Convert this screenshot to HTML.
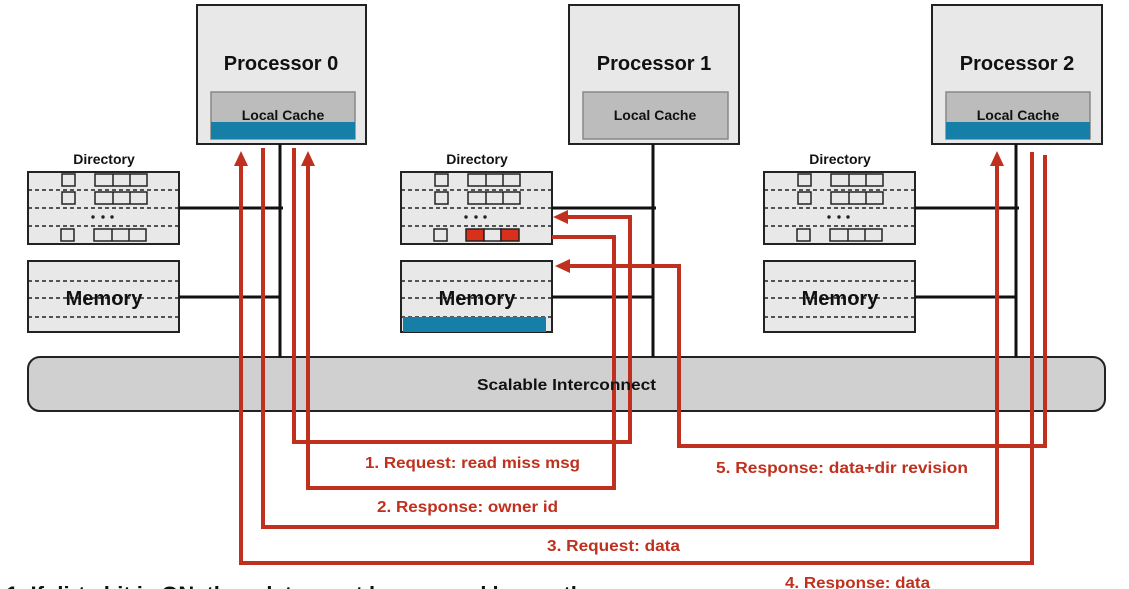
<!DOCTYPE html>
<html><head><meta charset="utf-8"><style>
html,body{margin:0;padding:0;background:#fff;}
svg{display:block;}
text{font-family:"Liberation Sans",sans-serif;font-weight:bold;}
</style></head><body>
<svg width="1129" height="589" viewBox="0 0 1129 589" xmlns="http://www.w3.org/2000/svg">
<defs>
<g id="dir">
  <rect x="0" y="0" width="151" height="72" fill="#e8e8e8" stroke="#222" stroke-width="2"/>
  <g stroke="#222" stroke-width="1.5" stroke-dasharray="4,3">
    <line x1="0" y1="18" x2="151" y2="18"/><line x1="0" y1="36" x2="151" y2="36"/><line x1="0" y1="54" x2="151" y2="54"/>
  </g>
  <g fill="#e8e8e8" stroke="#222" stroke-width="1.5">
    <rect x="34" y="2" width="13" height="12"/><rect x="67" y="2" width="52" height="12"/>
    <line x1="85" y1="2" x2="85" y2="14"/><line x1="102" y1="2" x2="102" y2="14"/>
    <rect x="34" y="20" width="13" height="12"/><rect x="67" y="20" width="52" height="12"/>
    <line x1="85" y1="20" x2="85" y2="32"/><line x1="102" y1="20" x2="102" y2="32"/>
  </g>
  <g fill="#222"><circle cx="65" cy="45" r="1.7"/><circle cx="75" cy="45" r="1.7"/><circle cx="84" cy="45" r="1.7"/></g>
</g>
<g id="mem">
  <rect x="0" y="0" width="151" height="71" fill="#e8e8e8" stroke="#222" stroke-width="2"/>
  <g stroke="#222" stroke-width="1.5" stroke-dasharray="4,3">
    <line x1="0" y1="20" x2="151" y2="20"/><line x1="0" y1="37" x2="151" y2="37"/><line x1="0" y1="56" x2="151" y2="56"/>
  </g>
  <text x="76" y="44" font-size="20" text-anchor="middle" fill="#111">Memory</text>
</g>
</defs>

<g>
  <rect x="197" y="5" width="169" height="139" fill="#e8e8e8" stroke="#222" stroke-width="2"/>
  <text x="281" y="70" font-size="20" text-anchor="middle" fill="#111">Processor 0</text>
  <rect x="211" y="92" width="144" height="47" fill="#bcbcbc" stroke="#888" stroke-width="1.5"/>
  <rect x="211" y="122" width="144" height="17" fill="#167fa7"/>
  <text x="283" y="120" font-size="14" text-anchor="middle" fill="#111">Local Cache</text>

  <rect x="569" y="5" width="170" height="139" fill="#e8e8e8" stroke="#222" stroke-width="2"/>
  <text x="654" y="70" font-size="20" text-anchor="middle" fill="#111">Processor 1</text>
  <rect x="583" y="92" width="145" height="47" fill="#bcbcbc" stroke="#888" stroke-width="1.5"/>
  <text x="655" y="120" font-size="14" text-anchor="middle" fill="#111">Local Cache</text>

  <rect x="932" y="5" width="170" height="139" fill="#e8e8e8" stroke="#222" stroke-width="2"/>
  <text x="1017" y="70" font-size="20" text-anchor="middle" fill="#111">Processor 2</text>
  <rect x="946" y="92" width="144" height="47" fill="#bcbcbc" stroke="#888" stroke-width="1.5"/>
  <rect x="946" y="122" width="144" height="17" fill="#167fa7"/>
  <text x="1018" y="120" font-size="14" text-anchor="middle" fill="#111">Local Cache</text>
</g>

<text x="104" y="164" font-size="14" text-anchor="middle" fill="#111">Directory</text>
<text x="477" y="164" font-size="14" text-anchor="middle" fill="#111">Directory</text>
<text x="840" y="164" font-size="14" text-anchor="middle" fill="#111">Directory</text>
<use href="#dir" x="28" y="172"/>
<use href="#dir" x="401" y="172"/>
<use href="#dir" x="764" y="172"/>
<g stroke="#222" stroke-width="1.5" fill="#e8e8e8">
  <rect x="61" y="229" width="13" height="12"/><rect x="94" y="229" width="52" height="12"/>
  <line x1="112" y1="229" x2="112" y2="241"/><line x1="129" y1="229" x2="129" y2="241"/>
  <rect x="797" y="229" width="13" height="12"/><rect x="830" y="229" width="52" height="12"/>
  <line x1="848" y1="229" x2="848" y2="241"/><line x1="865" y1="229" x2="865" y2="241"/>
  <rect x="434" y="229" width="13" height="12"/>
  <rect x="466" y="229" width="18" height="12" fill="#d9301c"/>
  <rect x="484" y="229" width="17" height="12"/>
  <rect x="501" y="229" width="18" height="12" fill="#d9301c"/>
</g>

<use href="#mem" x="28" y="261"/>
<use href="#mem" x="401" y="261"/>
<use href="#mem" x="764" y="261"/>
<rect x="403" y="317" width="143" height="15" fill="#167fa7"/>

<rect x="28" y="357" width="1077" height="54" rx="12" fill="#d0d0d0" stroke="#222" stroke-width="2"/>

<g stroke="#111" stroke-width="3" fill="none">
  <line x1="280" y1="144" x2="280" y2="357"/>
  <line x1="179" y1="208" x2="283" y2="208"/>
  <line x1="179" y1="297" x2="280" y2="297"/>
  <line x1="653" y1="144" x2="653" y2="357"/>
  <line x1="552" y1="208" x2="656" y2="208"/>
  <line x1="552" y1="297" x2="653" y2="297"/>
  <line x1="1016" y1="144" x2="1016" y2="357"/>
  <line x1="915" y1="208" x2="1019" y2="208"/>
  <line x1="915" y1="297" x2="1016" y2="297"/>
</g>

<g stroke="#c0301e" stroke-width="4" fill="none">
  <polyline points="294,148 294,442 630,442 630,217 566,217"/>
  <polyline points="552,237 614,237 614,488 308,488 308,165"/>
  <polyline points="263,148 263,527 997,527 997,165"/>
  <polyline points="1032,152 1032,563 241,563 241,165"/>
  <polyline points="1045,155 1045,446 679,446 679,266 568,266"/>
</g>
<g fill="#c0301e">
  <polygon points="553,217 568,210 568,224"/>
  <polygon points="555,266 570,259 570,273"/>
  <polygon points="308,151 301,166 315,166"/>
  <polygon points="241,151 234,166 248,166"/>
  <polygon points="997,151 990,166 1004,166"/>
</g>

<text x="477" y="390" font-size="16" fill="#111" textLength="179" lengthAdjust="spacingAndGlyphs">Scalable Interconnect</text>

<g fill="#c0301e" font-size="16">
  <text x="365" y="468" textLength="215" lengthAdjust="spacingAndGlyphs">1. Request: read miss msg</text>
  <text x="377" y="512" textLength="181" lengthAdjust="spacingAndGlyphs">2. Response: owner id</text>
  <text x="547" y="551" textLength="133" lengthAdjust="spacingAndGlyphs">3. Request: data</text>
  <text x="785" y="588" textLength="145" lengthAdjust="spacingAndGlyphs">4. Response: data</text>
  <text x="716" y="473" textLength="252" lengthAdjust="spacingAndGlyphs">5. Response: data+dir revision</text>
</g>
<text x="6" y="602" font-size="22" fill="#111">1. If dirty bit is ON, then data must be sourced by another</text>
</svg>
</body></html>
